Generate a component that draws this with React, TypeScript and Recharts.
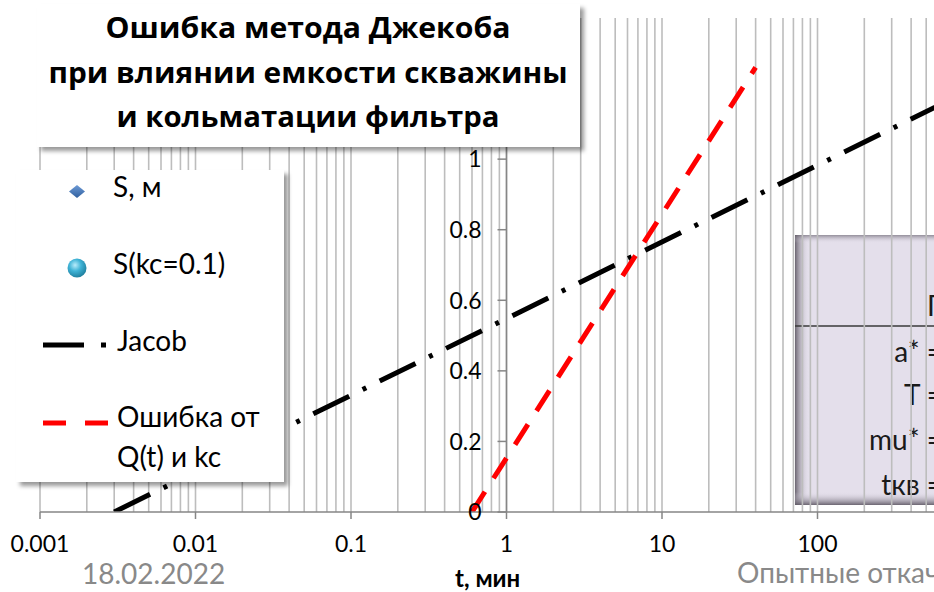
import React from "react";
import { ComposedChart, Line, XAxis, YAxis, ReferenceLine, ReferenceDot, CartesianGrid } from "recharts";

// ---- data ----
const X_TICKS = [0.001, 0.01, 0.1, 1, 10, 100, 1000];
const X_TICK_LABELS = ["0.001", "0.01", "0.1", "1", "10", "100", "1000"];
const Y_TICKS = [0, 0.2, 0.4, 0.6, 0.8, 1, 1.2, 1.4];
// labels of 1.2 and 1.4 are hidden behind the title box in the reference
const Y_TICK_LABELS = ["0", "0.2", "0.4", "0.6", "0.8", "1", "", ""];
const DECADES = [0.001, 0.01, 0.1, 1, 10, 100];
const MULTIPLIERS = [1, 2, 3, 4, 5, 6, 7, 8, 9];

const JACOB_T = [0.003, 1000];
const JACOB_S = [0, 1.2];
const ERR_T = [0.6, 40];
const ERR_S = [0, 1.26];

const TITLE_LINES = ["Ошибка метода Джекоба", "при влиянии емкости скважины", "и кольматации фильтра"];
const TITLE_WIDTHS = [405, 519, 383];
const LEGEND_LABELS = ["S, м", "S(kc=0.1)", "Jacob", "Ошибка от", "Q(t) и kc"];
const PARAM_TITLE = "Параметры";
const PARAM_LABELS = ["a* =", "T =", "mu* =", "tкв ="];
const FOOTER_DATE = "18.02.2022";
const FOOTER_TITLE = "Опытные откачки";
const X_LABEL = "t, мин";

const jacobData = JACOB_T.map((t, i) => ({ t, s: JACOB_S[i] }));
const errData = ERR_T.map((t, i) => ({ t, s: ERR_S[i] }));
const GRID_X = DECADES.flatMap((d) => MULTIPLIERS.map((m) => +(d * m).toPrecision(3))).concat([1000]);

const FONT = "Lato, 'Noto Sans', sans-serif";
const AXIS = "#868686";

const YTick = (label: string) => (props: any) => {
  const vb = props.viewBox || {};
  const cx = (vb.x || 0) + (vb.width || 0) / 2;
  const cy = (vb.y || 0) + (vb.height || 0) / 2;
  return (
    <g>
      <line x1={cx - 9} x2={cx} y1={cy} y2={cy} stroke={AXIS} strokeWidth={1.5} />
      {label ? (
        <text x={cx - 25} y={cy} dy="0.36em" textAnchor="end" fontSize={23} fontFamily={FONT} fill="#000">
          {label}
        </text>
      ) : null}
    </g>
  );
};

export default function App() {
  return (
    <div style={{ position: "fixed", left: 0, top: 0, width: 934, height: 592, overflow: "hidden", background: "#fff" }}>
      {/* parameter box (behind chart) */}
      <svg style={{ position: "absolute", left: 0, top: 0 }} width={934} height={592}>
        <defs>
          <linearGradient id="lgL" x1="0" x2="1" y1="0" y2="0">
            <stop offset="0" stopColor="#5e5864" stopOpacity={0.9} />
            <stop offset="1" stopColor="#e4dfeb" stopOpacity={0} />
          </linearGradient>
          <linearGradient id="lgB" x1="0" x2="0" y1="1" y2="0">
            <stop offset="0" stopColor="#5e5864" stopOpacity={0.9} />
            <stop offset="1" stopColor="#e4dfeb" stopOpacity={0} />
          </linearGradient>
          <linearGradient id="lgT" x1="0" x2="0" y1="0" y2="1">
            <stop offset="0" stopColor="#5e5864" stopOpacity={0.6} />
            <stop offset="1" stopColor="#e4dfeb" stopOpacity={0} />
          </linearGradient>
        </defs>
        <rect x={795} y={235} width={300} height={270} fill="#e4dfeb" />
        <rect x={795} y={235} width={14} height={270} fill="url(#lgL)" />
        <rect x={795} y={492} width={300} height={13} fill="url(#lgB)" />
        <rect x={795} y={235} width={300} height={8} fill="url(#lgT)" />
        <line x1={795} x2={934} y1={326} y2={326} stroke="#3a3a3a" strokeWidth={1.3} />
        <text x={927} y={316} fontSize={28} fontFamily={FONT} fill="#1a1a1a">{PARAM_TITLE}</text>
        {PARAM_LABELS.map((l, i) => (
          <text key={l} x={943} y={[362, 405, 450, 495][i]} textAnchor="end" fontSize={28} fontFamily={FONT} fill="#1a1a1a">
            {l}
          </text>
        ))}
      </svg>

      <div style={{ position: "absolute", left: 0, top: 0 }}>
        <ComposedChart width={1000} height={592} margin={{ top: 18, right: 27, left: 40, bottom: 0 }}>
          <CartesianGrid horizontal={false} verticalValues={GRID_X} stroke="#bdbdbd" strokeWidth={1.6} />
          <XAxis
            dataKey="t"
            type="number"
            scale="log"
            domain={[0.001, 1000]}
            allowDataOverflow
            ticks={X_TICKS}
            interval={0}
            tickFormatter={(v: number) => X_TICK_LABELS[X_TICKS.indexOf(v)] ?? String(v)}
            height={80}
            tickSize={7}
            tickMargin={17}
            axisLine={{ stroke: AXIS, strokeWidth: 1.5 }}
            tickLine={{ stroke: AXIS, strokeWidth: 1.5 }}
            tick={{ fill: "#000", fontSize: 23, fontFamily: FONT }}
          />
          <YAxis type="number" domain={[0, 1.4]} allowDataOverflow hide />
          <ReferenceLine x={1} stroke={AXIS} strokeWidth={1.5} />
          {Y_TICKS.map((v, i) => (
            <ReferenceDot key={v} x={1} y={v} r={1} fill="none" stroke="none" label={YTick(Y_TICK_LABELS[i])} />
          ))}
          <Line
            data={jacobData}
            dataKey="s"
            type="linear"
            stroke="#000"
            strokeWidth={5}
            strokeDasharray="40 15 4 15"
            dot={false}
            isAnimationActive={false}
          />
          <Line
            data={errData}
            dataKey="s"
            type="linear"
            stroke="#ff0000"
            strokeWidth={5}
            strokeDasharray="24 16"
            dot={false}
            isAnimationActive={false}
          />
        </ComposedChart>
      </div>

      {/* overlays: title, legend, footer */}
      <svg style={{ position: "absolute", left: 0, top: 0, pointerEvents: "none" }} width={934} height={592}>
        <defs>
          <filter id="sh" x="-10%" y="-10%" width="130%" height="130%">
            <feDropShadow dx={4} dy={4} stdDeviation={2} floodColor="#000" floodOpacity={0.4} />
          </filter>
          <radialGradient id="sph" cx="0.4" cy="0.35" r="0.7">
            <stop offset="0" stopColor="#b8ecfb" />
            <stop offset="0.45" stopColor="#3fb3d6" />
            <stop offset="1" stopColor="#1c7a99" />
          </radialGradient>
          <linearGradient id="dia" x1="0" x2="0" y1="0" y2="1">
            <stop offset="0" stopColor="#6d9ad6" />
            <stop offset="1" stopColor="#2f5f9e" />
          </linearGradient>
        </defs>
        <rect x={37} y={4} width={543} height={143} fill="#fff" filter="url(#sh)" />
        {TITLE_LINES.map((l, i) => (
          <text
            key={l}
            x={308}
            y={38 + i * 44.5}
            textAnchor="middle"
            fontSize={29}
            fontWeight={700}
            fontFamily="'Open Sans', Lato, sans-serif"
            fill="#000"
            textLength={TITLE_WIDTHS[i]}
            lengthAdjust="spacingAndGlyphs"
          >
            {l}
          </text>
        ))}

        <rect x={16} y={170} width={268} height={312} fill="#fff" filter="url(#sh)" />
        <path d="M77 185 L85 191.5 L77 198 L69 191.5 Z" fill="url(#dia)" />
        <circle cx={77} cy={268} r={9.5} fill="url(#sph)" />
        <line x1={43} x2={84} y1={345} y2={345} stroke="#000" strokeWidth={5} />
        <line x1={101} x2={106} y1={345} y2={345} stroke="#000" strokeWidth={5} />
        <line x1={43} x2={66} y1={423} y2={423} stroke="#ff0000" strokeWidth={5} />
        <line x1={85} x2={108} y1={423} y2={423} stroke="#ff0000" strokeWidth={5} />
        {LEGEND_LABELS.map((l, i) => (
          <text key={l} x={i < 2 ? 113 : 117} y={[197, 274, 351, 427, 467][i]} fontSize={28} fontFamily={FONT} fill="#000">
            {l}
          </text>
        ))}

        <text x={82} y={584} fontSize={28} fontFamily={FONT} fill="#898989">{FOOTER_DATE}</text>
        <text x={455} y={587} fontSize={24} fontWeight={700} fontFamily={FONT} fill="#000">{X_LABEL}</text>
        <text x={737} y={583} fontSize={28} fontFamily={FONT} fill="#898989">{FOOTER_TITLE}</text>
      </svg>
    </div>
  );
}
